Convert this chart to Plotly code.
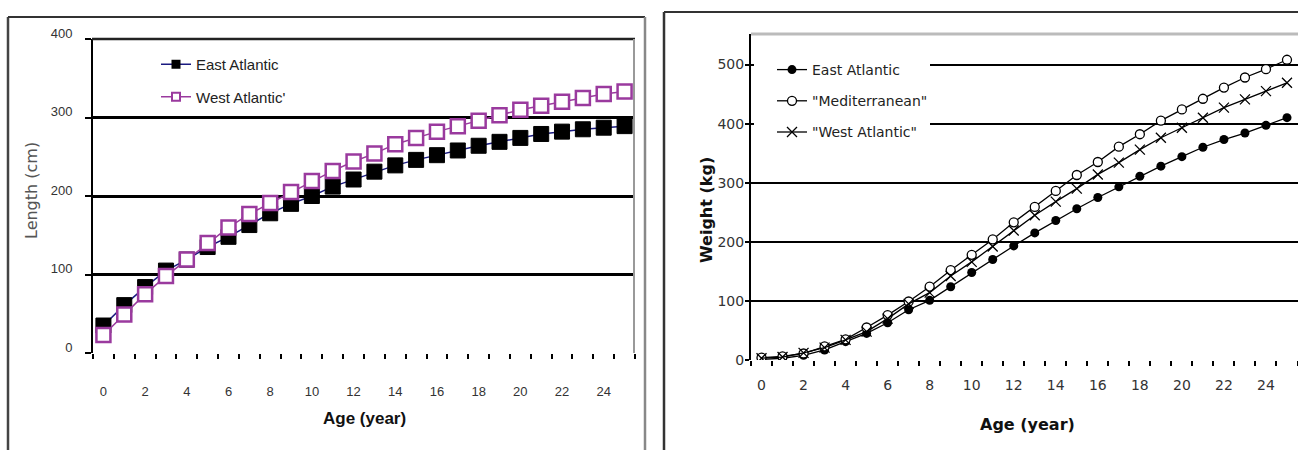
import plotly.graph_objects as go

W, H = 1298, 450

ages = list(range(26))
age_ticks = list(range(0, 25, 2))
age_ticktext = [str(a) for a in age_ticks]

# Left chart: length (cm)
len_east = [35, 61, 84, 105, 119, 135, 148, 163, 178, 190, 200, 212, 221, 231, 239, 246,
            252, 258, 264, 269, 274, 279, 282, 285, 287, 289]
len_west = [23, 49, 75, 98, 119, 140, 160, 177, 191, 205, 219, 232, 244, 254, 266, 274,
            282, 289, 296, 303, 310, 315, 320, 325, 330, 333]
len_ticks = [0, 100, 200, 300, 400]

# Right chart: weight (kg)
wt_east = [1, 3, 8, 17, 31, 45, 63, 85, 101, 124, 148, 170, 193, 215, 236, 256,
           275, 293, 311, 328, 344, 360, 373, 384, 397, 410]
wt_med = [4, 6, 11, 23, 35, 55, 76, 99, 124, 152, 178, 204, 233, 259, 286, 313,
          335, 361, 382, 405, 424, 442, 461, 478, 492, 508]
wt_west = [3, 5, 12, 21, 34, 48, 70, 95, 114, 142, 166, 192, 219, 245, 268, 290,
           314, 334, 356, 376, 393, 410, 427, 441, 455, 469]
wt_ticks = [0, 100, 200, 300, 400, 500]


def X(p):
    return p / W


def Y(p):
    return 1 - p / H


PURPLE = "#9a3a9e"
NAVY = "#1a1a80"

fig = go.Figure()

# ---- left chart traces
fig.add_trace(go.Scatter(x=ages, y=len_east, mode="lines+markers", name="East Atlantic",
                         line=dict(color=NAVY, width=1.5),
                         marker=dict(symbol="square", size=15, color="black",
                                     line=dict(color="black", width=1)),
                         xaxis="x", yaxis="y", showlegend=False))
fig.add_trace(go.Scatter(x=ages, y=len_west, mode="lines+markers", name="West Atlantic'",
                         line=dict(color=PURPLE, width=1.5),
                         marker=dict(symbol="square", size=14, color="white",
                                     line=dict(color=PURPLE, width=2.5)),
                         xaxis="x", yaxis="y", showlegend=False))
# legend entries (smaller markers, as in the reference legend)
fig.add_trace(go.Scatter(x=[None], y=[None], mode="lines+markers", name="East Atlantic",
                         line=dict(color=NAVY, width=1.5),
                         marker=dict(symbol="square", size=9, color="black"),
                         xaxis="x", yaxis="y", legend="legend", legendgroup="a"))
fig.add_trace(go.Scatter(x=[None], y=[None], mode="lines+markers", name="West Atlantic'",
                         line=dict(color=PURPLE, width=1.5),
                         marker=dict(symbol="square", size=8, color="white",
                                     line=dict(color=PURPLE, width=2)),
                         xaxis="x", yaxis="y", legend="legend", legendgroup="b"))

# ---- right chart traces
fig.add_trace(go.Scatter(x=ages, y=wt_east, mode="lines+markers", name="East Atlantic",
                         line=dict(color="black", width=1.3),
                         marker=dict(symbol="circle", size=9, color="black"),
                         xaxis="x2", yaxis="y2", legend="legend2", legendgroup="c"))
fig.add_trace(go.Scatter(x=ages, y=wt_med, mode="lines+markers", name='"Mediterranean"',
                         line=dict(color="black", width=1.3),
                         marker=dict(symbol="circle", size=9, color="white",
                                     line=dict(color="black", width=1.3)),
                         xaxis="x2", yaxis="y2", legend="legend2", legendgroup="d"))
fig.add_trace(go.Scatter(x=ages, y=wt_west, mode="lines+markers", name='"West Atlantic"',
                         line=dict(color="black", width=1.3),
                         marker=dict(symbol="x-thin", size=10, color="black",
                                     line=dict(color="black", width=1.3)),
                         xaxis="x2", yaxis="y2", legend="legend2", legendgroup="e"))

LFONT = "Liberation Sans, Arial, sans-serif"
RFONT = "DejaVu Sans, Verdana, sans-serif"

xcommon = dict(range=[-0.5, 25.5], tickmode="array", tickvals=age_ticks, ticktext=age_ticktext,
               ticks="", showgrid=False, zeroline=False, showline=False, automargin=False,
               minor=dict(tickmode="array", tickvals=[i - 0.5 for i in range(27)],
                          ticks="outside", ticklen=5, tickwidth=2, tickcolor="black",
                          showgrid=False))

fig.update_layout(
    width=W, height=H, autosize=False,
    margin=dict(l=0, r=0, t=0, b=0, autoexpand=False),
    paper_bgcolor="white", plot_bgcolor="white",
    xaxis=dict(domain=[X(93), X(635)], anchor="y",
               tickfont=dict(family=LFONT, size=13, color="#333"),
               ticklabelstandoff=29, **xcommon),
    yaxis=dict(domain=[Y(353), Y(39)], anchor="x", range=[0, 400], automargin=False,
               tickmode="array", tickvals=len_ticks,
               ticks="outside", ticklen=6, tickwidth=2, tickcolor="black",
               showline=True, linecolor="black", linewidth=2,
               showgrid=True, gridcolor="black", gridwidth=2.5, zeroline=False,
               tickfont=dict(family=LFONT, size=13, color="#333"),
               ticklabelstandoff=10, ticklabelshift=-6),
    xaxis2=dict(domain=[X(751), X(1297.5)], anchor="y2",
                tickfont=dict(family=RFONT, size=14, color="#333"),
                ticklabelstandoff=15, **xcommon),
    yaxis2=dict(domain=[Y(360), Y(34)], anchor="x2", range=[0, 551.6], automargin=False,
                tickmode="array", tickvals=wt_ticks,
                ticks="outside", ticklen=4, tickwidth=2, tickcolor="black",
                showline=True, linecolor="black", linewidth=2,
                showgrid=True, gridcolor="black", gridwidth=2, zeroline=False,
                tickfont=dict(family=RFONT, size=14, color="#333"),
                ticklabelstandoff=-2),
    legend=dict(x=X(156), y=Y(48), xanchor="left", yanchor="top",
                font=dict(family=LFONT, size=15, color="#222"),
                bgcolor="rgba(0,0,0,0)", tracegroupgap=10, itemsizing="trace"),
    legend2=dict(x=X(772), y=Y(54), xanchor="left", yanchor="top",
                 font=dict(family=RFONT, size=14, color="#222"),
                 bgcolor="rgba(0,0,0,0)", tracegroupgap=10, itemsizing="trace"),
)

# axis titles
ann = dict(xref="paper", yref="paper", showarrow=False, xanchor="center", yanchor="middle")
fig.add_annotation(text="Length (cm)", x=X(32), y=Y(191), textangle=-90,
                   font=dict(family=RFONT, size=16, color="#555"), **ann)
fig.add_annotation(text="<b>Age (year)</b>", x=X(364), y=Y(418),
                   font=dict(family=LFONT, size=17, color="#111"), **ann)
fig.add_annotation(text="<b>Weight (kg)</b>", x=X(706), y=Y(210), textangle=-90,
                   font=dict(family=RFONT, size=16, color="#111"), **ann)
fig.add_annotation(text="<b>Age (year)</b>", x=X(1027), y=Y(424),
                   font=dict(family=RFONT, size=16, color="#111"), **ann)

shapes = []
# white patch behind right legend (hides gridlines like the reference)
shapes.append(dict(type="rect", xref="paper", yref="paper", x0=X(754), x1=X(930),
                   y0=Y(145), y1=Y(50), fillcolor="white", line=dict(width=0), layer="above"))
# left plot frame: top and right
shapes.append(dict(type="line", xref="paper", yref="paper", x0=X(92), x1=X(635),
                   y0=Y(39), y1=Y(39), line=dict(color="#222", width=2.5)))
shapes.append(dict(type="line", xref="paper", yref="paper", x0=X(634), x1=X(634),
                   y0=Y(39), y1=Y(353), line=dict(color="#999", width=2)))
# right plot frame: top
shapes.append(dict(type="line", xref="paper", yref="paper", x0=X(751), x1=X(1298),
                   y0=Y(34), y1=Y(34), line=dict(color="#bbb", width=3)))
# panel borders
shapes.append(dict(type="line", xref="paper", yref="paper", x0=X(8), x1=X(8),
                   y0=Y(17), y1=Y(455), line=dict(color="#444", width=2.5)))
shapes.append(dict(type="line", xref="paper", yref="paper", x0=X(8), x1=X(645),
                   y0=Y(17), y1=Y(17), line=dict(color="#333", width=2)))
shapes.append(dict(type="line", xref="paper", yref="paper", x0=X(645), x1=X(645),
                   y0=Y(17), y1=Y(455), line=dict(color="#888", width=2.5)))
shapes.append(dict(type="line", xref="paper", yref="paper", x0=X(664), x1=X(664),
                   y0=Y(12), y1=Y(455), line=dict(color="#333", width=2.5)))
shapes.append(dict(type="line", xref="paper", yref="paper", x0=X(664), x1=X(1298),
                   y0=Y(12), y1=Y(12), line=dict(color="#333", width=2)))
fig.update_layout(shapes=shapes)

fig.write_html("out.html", config={"displayModeBar": False},
               post_script="document.body.style.margin='0px';")
